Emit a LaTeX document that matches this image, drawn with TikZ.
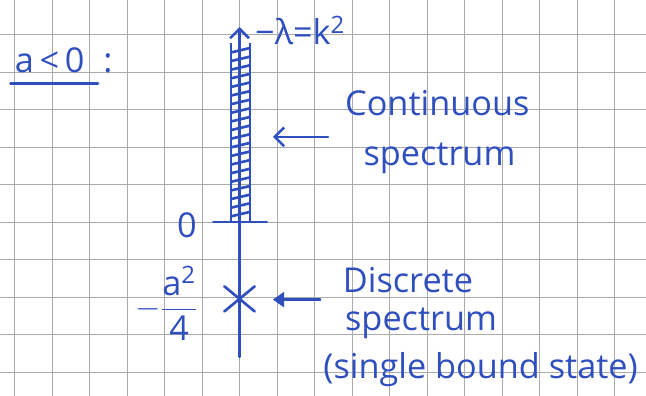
\documentclass[tikz,border=0pt]{standalone}
\usepackage{amsmath}
\usepackage{fontspec}
\setmainfont{Open Sans}
\usetikzlibrary{arrows.meta,positioning,shapes.misc}
\definecolor{encre}{HTML}{2F4FBF}
\definecolor{grille}{HTML}{ABABAB}

\begin{document}
\begin{tikzpicture}[
  lbl/.style={text=encre,font=\fontsize{26}{30}\selectfont,inner sep=0pt},
  trait/.style={encre,line width=2pt,line cap=round},
  hach/.style={encre,line width=2pt}]
  \useasboundingbox (-6.387,-4.64) rectangle (10.84,5.92);
  \fill[white] (-6.387,-4.64) rectangle (10.84,5.92);
  \draw[grille,line width=0.7pt] (-6.387,-4.64) grid (10.84,5.92);
  \coordinate (bas) at (0,-3.6);
  \coordinate (haut) at (0,5.2);
  \draw[trait,-{Straight Barb[length=2.5mm,width=5mm]}] (bas) -- (haut);
  \draw[hach] (-0.23,0) -- (-0.23,4.77) (0.28,0) -- (0.28,4.77);
  \foreach \y in {0.15,0.38,...,4.6}
    \draw[hach] (-0.23,\y) -- (0.28,\y+0.12);
  \draw[trait] (-0.7,0) -- (0.73,0);
  \node[lbl] (zero) at (-1.4,-0.08) {0};
  \node[lbl,anchor=base west] (lam) at (0.41,4.72) {−λ=k\textsuperscript{2}};
  \node[lbl,anchor=base west] (titre) at (-6.0,4.0) {a\,<\,0\;\;:};
  \draw[trait,line width=2.5pt] ([yshift=-0.3cm,xshift=-0.1cm]titre.base west) -- ([yshift=-0.3cm,xshift=-0.4cm]titre.base east);
  \node[lbl,anchor=base west] (cont) at (2.81,2.85) {Continuous};
  \node[lbl,anchor=base west] (spec1) at (3.3,1.52) {spectrum};
  \coordinate (ctip) at (0.89,2.27);
  \coordinate (ctail) at (2.36,2.27);
  \draw[trait,-{Straight Barb[length=2.5mm,width=5mm]}] (ctail) -- (ctip);
  \node[trait,draw,cross out,minimum width=0.74cm,minimum height=0.6cm] (croix) at (0,-2.05) {};
  \node[lbl] (frac) at (-1.95,-2.17) {$-\dfrac{\text{a}^{\text{2}}}{\text{4}}$};
  \coordinate (dtip) at (0.89,-2.07);
  \coordinate (dtail) at (2.15,-2.07);
  \draw[trait,-{Triangle[length=3mm,width=4mm]}] (dtail) -- (dtip);
  \node[lbl,anchor=base west] (disc) at (2.75,-1.87) {Discrete};
  \node[lbl,anchor=base west] (spec2) at (2.81,-2.88) {spectrum};
  \node[lbl,anchor=base west] (etat) at (2.23,-4.16) {(single bound state)};
\end{tikzpicture}
\end{document}
